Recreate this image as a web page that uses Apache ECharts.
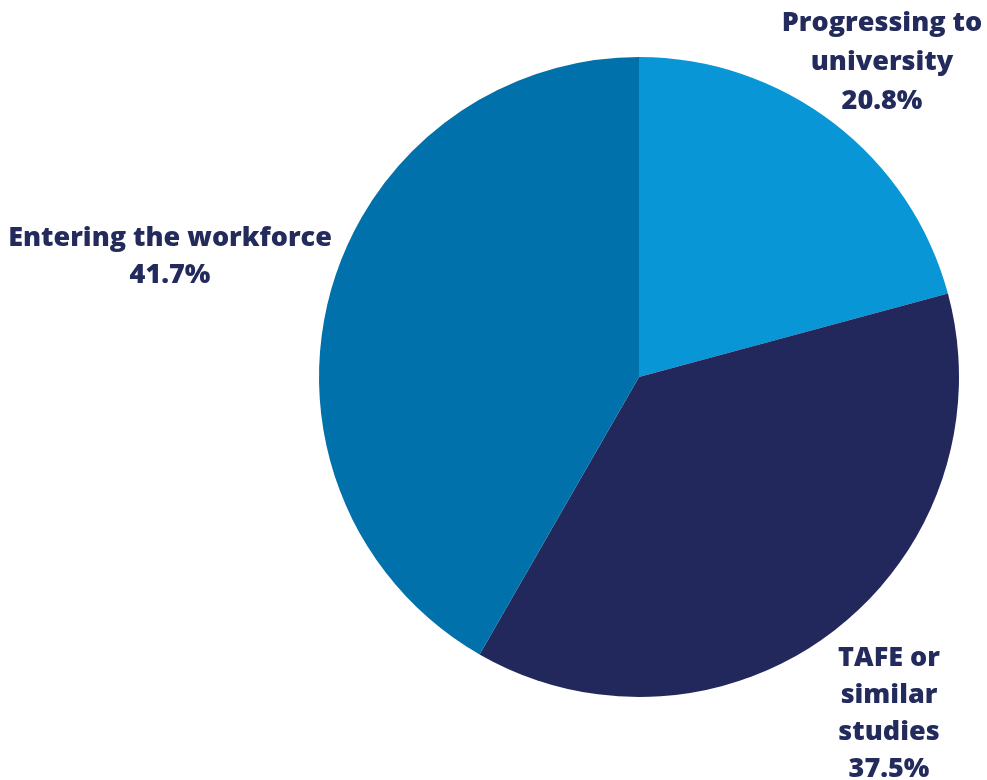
<!DOCTYPE html>
<html>
<head>
<meta charset="utf-8">
<script src="https://cdn.jsdelivr.net/npm/echarts@6/dist/echarts.min.js"></script>
<style>
  html, body { margin: 0; padding: 0; background: #fff; }
  #main { width: 987px; height: 780px; }
</style>
</head>
<body>
<div id="main"></div>
<script>
// categories and shares (%)
const labels = ['Progressing to\nuniversity', 'TAFE or\nsimilar\nstudies', 'Entering the workforce'];
const values = [20.8, 37.5, 41.7];
const colors = ['#0896d7', '#22285b', '#0071aa'];

// where each label block sits (centre x, top y) and its line spacing
const labelPos = [[882, 4], [889, 640], [170, 220]];
const labelLineHeights = [39, 37, 37];

const chart = echarts.init(document.getElementById('main'));

chart.setOption({
  animation: false,
  series: [{
    type: 'pie',
    center: [639, 377],
    radius: 320,
    startAngle: 90,
    clockwise: true,
    label: {
      show: true,
      position: 'outside',
      formatter: p => p.name + '\n' + p.value.toFixed(1) + '%',
      color: '#232a5c',
      fontFamily: 'Open Sans',
      fontWeight: 800,
      fontSize: 27,
      lineHeight: 37,
      align: 'center',
      overflow: 'none',
      width: 400
    },
    labelLine: { show: false },
    labelLayout: p => ({
      x: labelPos[p.dataIndex][0],
      y: labelPos[p.dataIndex][1],
      align: 'center',
      verticalAlign: 'top'
    }),
    data: labels.map((n, i) => ({
      name: n,
      value: values[i],
      itemStyle: { color: colors[i] },
      label: { lineHeight: labelLineHeights[i] }
    }))
  }]
});
</script>
</body>
</html>
